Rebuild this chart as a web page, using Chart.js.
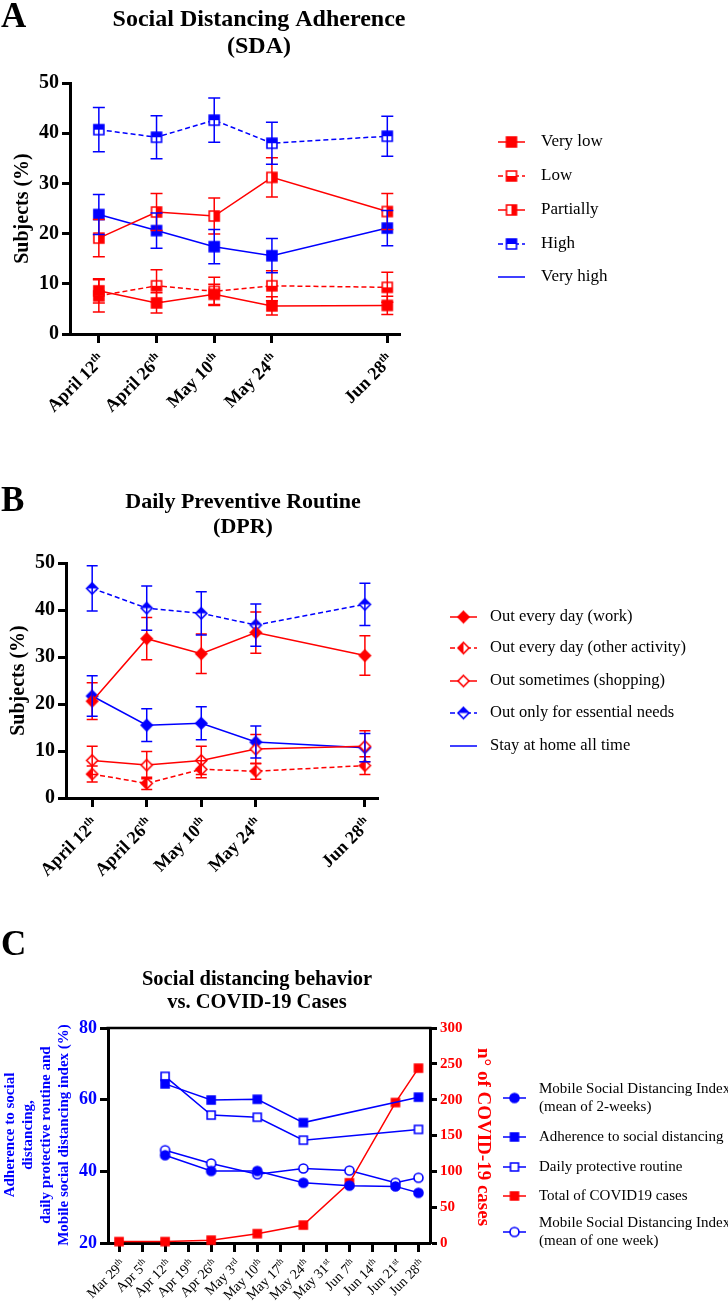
<!DOCTYPE html>
<html>
<head>
<meta charset="utf-8">
<script src="https://cdn.jsdelivr.net/npm/chart.js@4.4.1/dist/chart.umd.min.js"></script>
<style>
  body { margin: 0; background: #fff; }
  .panel { position: absolute; left: 0; }
</style>
</head>
<body>
<canvas id="sda" class="panel" width="728" height="450" style="top:0"></canvas>
<canvas id="dpr" class="panel" width="728" height="430" style="top:450px"></canvas>
<canvas id="cases" class="panel" width="728" height="424" style="top:880px"></canvas>
<script>
const RED = '#ff0000';
const BLUE = '#0000ff';
const SERIF = "'Liberation Serif', 'Times New Roman', serif";

// A: Social Distancing Adherence (% of subjects, mean +/- error)
const sdaDates = ['April 12', 'April 26', 'May 10', 'May 24', 'Jun 28'];
const sdaSup = ['th', 'th', 'th', 'th', 'th'];
const sdaPos = [0, 1, 2, 3, 5];
const sdaVeryLow = [8.6, 6.2, 7.9, 5.6, 5.7];
const sdaVeryLowErr = [2.4, 2.0, 2.0, 1.8, 1.8];
const sdaLow = [7.6, 9.6, 8.5, 9.6, 9.3];
const sdaLowErr = [3.2, 3.2, 2.8, 3.0, 3.0];
const sdaPartially = [19.1, 24.3, 23.5, 31.2, 24.4];
const sdaPartiallyErr = [3.7, 3.7, 3.6, 3.9, 3.6];
const sdaHigh = [40.7, 39.2, 42.6, 38.0, 39.4];
const sdaHighErr = [4.4, 4.3, 4.4, 4.2, 4.0];
const sdaVeryHigh = [23.8, 20.6, 17.4, 15.6, 21.1];
const sdaVeryHighErr = [4.0, 3.5, 3.4, 3.4, 3.5];

// B: Daily Preventive Routine
const dprWork = [20.6, 33.9, 30.7, 35.2, 30.3];
const dprWorkErr = [3.9, 4.5, 4.2, 4.4, 4.2];
const dprOther = [5.1, 3.1, 6.1, 5.7, 6.9];
const dprOtherErr = [1.7, 1.3, 1.8, 1.7, 1.9];
const dprSometimes = [8.0, 7.0, 8.0, 10.4, 11.0];
const dprSometimesErr = [3.0, 2.9, 3.0, 3.1, 3.3];
const dprEssential = [44.6, 40.4, 39.3, 36.8, 41.2];
const dprEssentialErr = [4.8, 4.7, 4.6, 4.5, 4.5];
const dprStayHome = [21.7, 15.5, 15.9, 11.9, 10.7];
const dprStayHomeErr = [4.3, 3.5, 3.5, 3.4, 3.0];

// C: behaviour vs cases, weekly axis
const weekLabels = ['Mar 29', 'Apr 5', 'Apr 12', 'Apr 19', 'Apr 26', 'May 3', 'May 10',
  'May 17', 'May 24', 'May 31', 'Jun 7', 'Jun 14', 'Jun 21', 'Jun 28'];
const weekSup = ['th', 'th', 'th', 'th', 'th', 'rd', 'th', 'th', 'th', 'st', 'th', 'th', 'st', 'th'];
const weekPos = [0, 1, 2, 3, 4, 5, 6, 7, 8, 9, 10, 11, 12, 13];
const surveyPos = [2, 4, 6, 8, 13];
const adherence = [64.4, 59.9, 60.1, 53.6, 60.7];
const protective = [66.5, 55.7, 55.1, 48.7, 51.7];
const mobilePos = [2, 4, 6, 8, 10, 12, 13];
const mobile2w = [44.5, 40.1, 40.1, 36.8, 36.0, 35.8, 34.0];
const mobile1w = [45.9, 42.2, 39.2, 40.8, 40.2, 36.8, 38.2];
const casesPos = [0, 2, 4, 6, 8, 10, 12, 13];
const cases = [2, 2, 4, 13, 25, 84, 196, 244];

Chart.defaults.font.family = SERIF;

function pts(pos, vals) {
  return pos.map((x, i) => ({ x, y: vals[i] }));
}

// little canvases used as point styles (full / open / half filled)
function marker(shape, color, fill, size) {
  const pad = 2, n = size + pad * 2;
  const c = document.createElement('canvas');
  c.width = n; c.height = n;
  const g = c.getContext('2d');
  const m = n / 2, r = size / 2;
  const path = () => {
    g.beginPath();
    if (shape === 'square') g.rect(m - r, m - r, size, size);
    else if (shape === 'diamond') {
      g.moveTo(m, m - r); g.lineTo(m + r, m); g.lineTo(m, m + r); g.lineTo(m - r, m); g.closePath();
    } else g.arc(m, m, r, 0, Math.PI * 2);
  };
  path(); g.fillStyle = '#fff'; g.fill();
  g.save(); path(); g.clip(); g.fillStyle = color;
  if (fill === 'full') g.fillRect(0, 0, n, n);
  else if (fill === 'top') g.fillRect(0, 0, n, m);
  else if (fill === 'bottom') g.fillRect(0, m, n, n - m);
  else if (fill === 'left') g.fillRect(0, 0, m, n);
  else if (fill === 'right') g.fillRect(m, 0, n - m, n);
  g.restore();
  path(); g.lineWidth = 1.6; g.strokeStyle = color; g.stroke();
  return c;
}

function series(label, pos, vals, errs, color, style, dashed, yAxisID) {
  return {
    label, data: pts(pos, vals), errors: errs,
    borderColor: color, backgroundColor: color, borderWidth: 1.5,
    borderDash: dashed ? [5, 3] : [],
    pointStyle: style, pointRadius: 5, pointHoverRadius: 5,
    tension: 0, clip: false, yAxisID: yAxisID || 'y'
  };
}

const errorBars = {
  id: 'errorBars',
  afterDatasetsDraw(chart) {
    const ctx = chart.ctx;
    const cap = chart.options.capWidth || 6;
    chart.data.datasets.forEach((ds, i) => {
      if (!ds.errors) return;
      const meta = chart.getDatasetMeta(i);
      const ys = chart.scales[meta.yAxisID];
      ctx.save();
      ctx.strokeStyle = ds.borderColor;
      ctx.lineWidth = 1.5;
      ctx.setLineDash([]);
      meta.data.forEach((pt, j) => {
        const v = ds.data[j].y, e = ds.errors[j];
        const top = ys.getPixelForValue(v + e), bot = ys.getPixelForValue(v - e);
        ctx.beginPath();
        ctx.moveTo(pt.x, top); ctx.lineTo(pt.x, bot);
        ctx.moveTo(pt.x - cap, top); ctx.lineTo(pt.x + cap, top);
        ctx.moveTo(pt.x - cap, bot); ctx.lineTo(pt.x + cap, bot);
        ctx.stroke();
      });
      ctx.restore();
    });
  }
};

// panel letter, title, rotated date labels with superscripts, and legend
function decor(cfg) {
  return {
    id: 'decor' + cfg.letter,
    afterDraw(chart) {
      const ctx = chart.ctx;
      ctx.save();
      ctx.fillStyle = '#000';
      ctx.font = `bold 35px ${SERIF}`;
      ctx.textAlign = 'left';
      ctx.textBaseline = 'alphabetic';
      ctx.fillText(cfg.letter, 1, cfg.letterY);

      ctx.font = cfg.titleFont;
      ctx.textAlign = 'center';
      ctx.textBaseline = 'middle';
      cfg.title.forEach((t, i) => ctx.fillText(t, cfg.titleX, cfg.titleY[i]));

      const xl = cfg.xLabels, sc = chart.scales.x;
      xl.pos.forEach((p, i) => {
        ctx.save();
        ctx.translate(sc.getPixelForValue(p) + xl.dx, sc.top + xl.dy);
        ctx.rotate(-Math.PI / 4);
        ctx.textAlign = 'left';
        ctx.textBaseline = 'alphabetic';
        ctx.font = xl.supFont;
        const sw = ctx.measureText(xl.sup[i]).width;
        ctx.font = xl.font;
        const mw = ctx.measureText(xl.text[i]).width;
        ctx.fillText(xl.text[i], -sw - mw, 0);
        ctx.font = xl.supFont;
        ctx.fillText(xl.sup[i], -sw, -xl.raise);
        ctx.restore();
      });

      const lg = cfg.legend;
      lg.items.forEach(it => {
        const ds = chart.data.datasets[it.ds];
        ctx.strokeStyle = ds.borderColor;
        ctx.lineWidth = ds.borderWidth;
        ctx.setLineDash(ds.borderDash || []);
        ctx.beginPath();
        ctx.moveTo(lg.x0, it.y); ctx.lineTo(lg.x1, it.y);
        ctx.stroke();
        ctx.setLineDash([]);
        if (it.marker !== false) {
          const img = ds.pointStyle;
          ctx.drawImage(img, (lg.x0 + lg.x1) / 2 - img.width / 2, it.y - img.height / 2);
        }
        ctx.fillStyle = '#000';
        ctx.font = lg.font;
        ctx.textAlign = 'left';
        ctx.textBaseline = 'middle';
        const lines = it.text || [ds.label];
        lines.forEach((t, k) => {
          ctx.fillText(t, lg.tx, it.y - (lines.length - 1) * lg.gap / 2 + k * lg.gap);
        });
      });

      if (cfg.extra) cfg.extra(chart, ctx);
      ctx.restore();
    }
  };
}

function dateAxis(pos, min, max, height) {
  return {
    type: 'linear', min, max,
    afterBuildTicks: s => { s.ticks = pos.map(v => ({ value: v })); },
    afterFit: s => { s.height = height; },
    ticks: { display: false },
    grid: { drawOnChartArea: false, tickLength: 9, tickWidth: 3, tickColor: '#000' },
    border: { color: '#000', width: 3 }
  };
}

function pctAxis(width, titlePad) {
  return {
    type: 'linear', min: 0, max: 50,
    afterFit: s => { s.width = width; },
    ticks: { stepSize: 10, color: '#000', padding: 3, font: { family: SERIF, size: 20, weight: 'bold' } },
    grid: { drawOnChartArea: false, tickLength: 8, tickWidth: 3, tickColor: '#000' },
    border: { color: '#000', width: 3 },
    title: { display: true, text: 'Subjects (%)', color: '#000', padding: { top: titlePad, bottom: 0 },
      font: { family: SERIF, size: 20, weight: 'bold' } }
  };
}

function baseOptions(padding, scales, capWidth) {
  return {
    responsive: false, animation: false, devicePixelRatio: 1, events: [],
    capWidth,
    layout: { padding },
    plugins: { legend: { display: false }, tooltip: { enabled: false } },
    scales
  };
}

const boldDates = { font: `bold 18px ${SERIF}`, supFont: `bold 11px ${SERIF}`, raise: 7, dx: 7, dy: 27 };

// ---------- A ----------
new Chart(document.getElementById('sda'), {
  type: 'line',
  data: {
    datasets: [
      series('Very low', sdaPos, sdaVeryLow, sdaVeryLowErr, RED, marker('square', RED, 'full', 10), false),
      series('Low', sdaPos, sdaLow, sdaLowErr, RED, marker('square', RED, 'bottom', 10), true),
      series('Partially', sdaPos, sdaPartially, sdaPartiallyErr, RED, marker('square', RED, 'right', 10), false),
      series('High', sdaPos, sdaHigh, sdaHighErr, BLUE, marker('square', BLUE, 'top', 10), true),
      series('Very high', sdaPos, sdaVeryHigh, sdaVeryHighErr, BLUE, marker('square', BLUE, 'full', 10), false)
    ]
  },
  options: baseOptions({ top: 83, left: 0, right: 328, bottom: 0 }, {
    x: dateAxis(sdaPos, -0.5, 5.22, 116),
    y: pctAxis(70, 11)
  }, 6),
  plugins: [errorBars, decor({
    letter: 'A', letterY: 27,
    titleFont: `bold 24px ${SERIF}`, title: ['Social Distancing Adherence', '(SDA)'], titleX: 259, titleY: [20, 47],
    xLabels: Object.assign({ pos: sdaPos, text: sdaDates, sup: sdaSup }, boldDates),
    legend: {
      x0: 498, x1: 525, tx: 541, font: `17px ${SERIF}`, gap: 18,
      items: [{ ds: 0, y: 142 }, { ds: 1, y: 176 }, { ds: 2, y: 210 }, { ds: 3, y: 244 }, { ds: 4, y: 277, marker: false }]
    }
  })]
});

// ---------- B ----------
new Chart(document.getElementById('dpr'), {
  type: 'line',
  data: {
    datasets: [
      series('Out every day (work)', sdaPos, dprWork, dprWorkErr, RED, marker('diamond', RED, 'full', 11), false),
      series('Out every day (other activity)', sdaPos, dprOther, dprOtherErr, RED, marker('diamond', RED, 'left', 11), true),
      series('Out sometimes (shopping)', sdaPos, dprSometimes, dprSometimesErr, RED, marker('diamond', RED, 'open', 11), false),
      series('Out only for essential needs', sdaPos, dprEssential, dprEssentialErr, BLUE, marker('diamond', BLUE, 'top', 11), true),
      series('Stay at home all time', sdaPos, dprStayHome, dprStayHomeErr, BLUE, marker('diamond', BLUE, 'full', 11), false)
    ]
  },
  options: baseOptions({ top: 113, left: 0, right: 350, bottom: 0 }, {
    x: dateAxis(sdaPos, -0.48, 5.24, 82),
    y: pctAxis(66, 7)
  }, 5.5),
  plugins: [errorBars, decor({
    letter: 'B', letterY: 61,
    titleFont: `bold 22px ${SERIF}`, title: ['Daily Preventive Routine', '(DPR)'], titleX: 243, titleY: [52, 77],
    xLabels: Object.assign({ pos: sdaPos, text: sdaDates, sup: sdaSup }, boldDates),
    legend: {
      x0: 450, x1: 477, tx: 490, font: `16.5px ${SERIF}`, gap: 18,
      items: [{ ds: 0, y: 167 }, { ds: 1, y: 198 }, { ds: 2, y: 231 }, { ds: 3, y: 263 }, { ds: 4, y: 296, marker: false }]
    }
  })]
});

// ---------- C ----------
const leftTitle = ['Adherence to social', 'distancing,', 'daily protective routine and', 'Mobile social distancing index (%)'];
const leftTitleX = [10, 28, 46, 64];

new Chart(document.getElementById('cases'), {
  type: 'line',
  data: {
    datasets: [
      series('Mobile Social Distancing Index (mean of 2-weeks)', mobilePos, mobile2w, null, BLUE, marker('circle', BLUE, 'full', 9), false),
      series('Adherence to social distancing', surveyPos, adherence, null, BLUE, marker('square', BLUE, 'full', 8), false),
      series('Daily protective routine', surveyPos, protective, null, BLUE, marker('square', BLUE, 'open', 8), false),
      series('Total of COVID19 cases', casesPos, cases, null, RED, marker('square', RED, 'full', 8), false, 'y1'),
      series('Mobile Social Distancing Index (mean of one week)', mobilePos, mobile1w, null, BLUE, marker('circle', BLUE, 'open', 9), false)
    ]
  },
  options: baseOptions({ top: 148, left: 0, right: 258, bottom: 0 }, {
    x: dateAxis(weekPos, -0.48, 13.5, 61),
    y: {
      type: 'linear', position: 'left', min: 20, max: 80,
      afterFit: s => { s.width = 108; },
      ticks: { stepSize: 20, color: BLUE, padding: 3, font: { family: SERIF, size: 18, weight: 'bold' } },
      grid: { drawOnChartArea: false, tickLength: 8, tickWidth: 3, tickColor: '#000' },
      border: { color: '#000', width: 3 }
    },
    y1: {
      type: 'linear', position: 'right', min: 0, max: 300,
      afterFit: s => { s.width = 40; },
      ticks: { stepSize: 50, color: RED, padding: 3, font: { family: SERIF, size: 15, weight: 'bold' } },
      grid: { drawOnChartArea: false, tickLength: 7, tickWidth: 3, tickColor: '#000' },
      border: { color: '#000', width: 3 }
    }
  }),
  plugins: [decor({
    letter: 'C', letterY: 75,
    titleFont: `bold 20.5px ${SERIF}`, title: ['Social distancing behavior', 'vs. COVID-19 Cases'], titleX: 257, titleY: [100, 123],
    xLabels: { pos: weekPos, text: weekLabels, sup: weekSup, font: `14px ${SERIF}`, supFont: `9px ${SERIF}`, raise: 5, dx: 7, dy: 22 },
    legend: {
      x0: 503, x1: 526, tx: 539, font: `15px ${SERIF}`, gap: 18,
      items: [
        { ds: 0, y: 218, text: ['Mobile Social Distancing Index', '(mean of 2-weeks)'] },
        { ds: 1, y: 257 },
        { ds: 2, y: 287 },
        { ds: 3, y: 316 },
        { ds: 4, y: 352, text: ['Mobile Social Distancing Index', '(mean of one week)'] }
      ]
    },
    extra(chart, ctx) {
      const a = chart.chartArea;
      ctx.strokeStyle = '#000';
      ctx.lineWidth = 2.5;
      ctx.beginPath();
      ctx.moveTo(a.left - 1.5, a.top); ctx.lineTo(a.right + 1.5, a.top);
      ctx.stroke();

      ctx.save();
      ctx.translate(0, 255);
      ctx.rotate(-Math.PI / 2);
      ctx.fillStyle = BLUE;
      ctx.font = `bold 15px ${SERIF}`;
      ctx.textAlign = 'center';
      ctx.textBaseline = 'middle';
      leftTitle.forEach((t, i) => ctx.fillText(t, 0, leftTitleX[i]));
      ctx.restore();

      ctx.save();
      ctx.translate(483, 257);
      ctx.rotate(Math.PI / 2);
      ctx.fillStyle = RED;
      ctx.font = `bold 19px ${SERIF}`;
      ctx.textAlign = 'center';
      ctx.textBaseline = 'middle';
      ctx.fillText('n° of COVID-19 cases', 0, 0);
      ctx.restore();
    }
  })]
});
</script>
</body>
</html>
